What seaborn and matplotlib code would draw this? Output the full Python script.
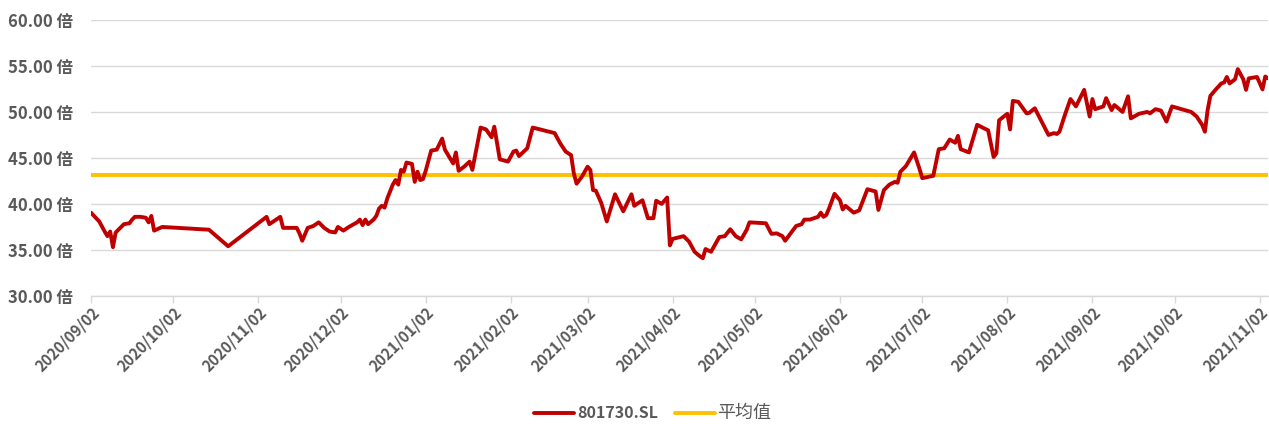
import matplotlib
matplotlib.use("Agg")
import matplotlib.pyplot as plt
import seaborn as sns
import pandas as pd
import numpy as np

# ---------------- data ----------------
dates = [
    "2020-09-02", "2020-09-05", "2020-09-07", "2020-09-08", "2020-09-09", "2020-09-10",
    "2020-09-11", "2020-09-13", "2020-09-14", "2020-09-16", "2020-09-17", "2020-09-18",
    "2020-09-20", "2020-09-22", "2020-09-23", "2020-09-24", "2020-09-25", "2020-09-28",
    "2020-10-15", "2020-10-22", "2020-11-05", "2020-11-06", "2020-11-10", "2020-11-11",
    "2020-11-13", "2020-11-16", "2020-11-17", "2020-11-18", "2020-11-20", "2020-11-22",
    "2020-11-24", "2020-11-26", "2020-11-28", "2020-11-30", "2020-12-01", "2020-12-03",
    "2020-12-05", "2020-12-08", "2020-12-09", "2020-12-10", "2020-12-11", "2020-12-12",
    "2020-12-14", "2020-12-15", "2020-12-16", "2020-12-17", "2020-12-18", "2020-12-19",
    "2020-12-21", "2020-12-22", "2020-12-23", "2020-12-24", "2020-12-25", "2020-12-26",
    "2020-12-28", "2020-12-29", "2020-12-30", "2020-12-31", "2021-01-01", "2021-01-02",
    "2021-01-04", "2021-01-06", "2021-01-08", "2021-01-09", "2021-01-12", "2021-01-13",
    "2021-01-14", "2021-01-16", "2021-01-18", "2021-01-19", "2021-01-22", "2021-01-24",
    "2021-01-26", "2021-01-27", "2021-01-29", "2021-02-01", "2021-02-03", "2021-02-04",
    "2021-02-05", "2021-02-08", "2021-02-10", "2021-02-18", "2021-02-20", "2021-02-22",
    "2021-02-24", "2021-02-25", "2021-02-26", "2021-02-28", "2021-03-02", "2021-03-03",
    "2021-03-04", "2021-03-05", "2021-03-07", "2021-03-09", "2021-03-12", "2021-03-15",
    "2021-03-18", "2021-03-19", "2021-03-22", "2021-03-24", "2021-03-26", "2021-03-27",
    "2021-03-29", "2021-03-31", "2021-04-01", "2021-04-02", "2021-04-06", "2021-04-08",
    "2021-04-10", "2021-04-12", "2021-04-13", "2021-04-14", "2021-04-16", "2021-04-19",
    "2021-04-21", "2021-04-23", "2021-04-25", "2021-04-27", "2021-04-29", "2021-04-30",
    "2021-05-06", "2021-05-08", "2021-05-10", "2021-05-12", "2021-05-13", "2021-05-15",
    "2021-05-17", "2021-05-19", "2021-05-20", "2021-05-22", "2021-05-25", "2021-05-26",
    "2021-05-27", "2021-05-28", "2021-05-29", "2021-05-31", "2021-06-02", "2021-06-03",
    "2021-06-04", "2021-06-07", "2021-06-09", "2021-06-12", "2021-06-15", "2021-06-16",
    "2021-06-18", "2021-06-20", "2021-06-22", "2021-06-23", "2021-06-24", "2021-06-26",
    "2021-06-27", "2021-06-29", "2021-07-01", "2021-07-02", "2021-07-05", "2021-07-06",
    "2021-07-08", "2021-07-10", "2021-07-12", "2021-07-14", "2021-07-15", "2021-07-16",
    "2021-07-19", "2021-07-22", "2021-07-26", "2021-07-28", "2021-07-29", "2021-07-30",
    "2021-08-02", "2021-08-03", "2021-08-04", "2021-08-06", "2021-08-09", "2021-08-10",
    "2021-08-12", "2021-08-17", "2021-08-19", "2021-08-20", "2021-08-21", "2021-08-23",
    "2021-08-25", "2021-08-27", "2021-08-30", "2021-09-01", "2021-09-02", "2021-09-03",
    "2021-09-06", "2021-09-07", "2021-09-09", "2021-09-10", "2021-09-13", "2021-09-15",
    "2021-09-16", "2021-09-19", "2021-09-22", "2021-09-23", "2021-09-25", "2021-09-27",
    "2021-09-29", "2021-10-01", "2021-10-08", "2021-10-10", "2021-10-12", "2021-10-13",
    "2021-10-14", "2021-10-15", "2021-10-17", "2021-10-19", "2021-10-20", "2021-10-21",
    "2021-10-22", "2021-10-24", "2021-10-25", "2021-10-27", "2021-10-28", "2021-10-29",
    "2021-11-01", "2021-11-03", "2021-11-04", "2021-11-05",
]
pe_values = [
    39.05, 38.1, 37.0, 36.5, 37.0, 35.3,
    36.9, 37.5, 37.8, 37.9, 38.3, 38.6,
    38.6, 38.5, 38.0, 38.7, 37.1, 37.5,
    37.2, 35.4, 38.6, 37.8, 38.6, 37.4,
    37.4, 37.4, 36.8, 36.0, 37.4, 37.6,
    38.0, 37.4, 37.0, 36.9, 37.5, 37.1,
    37.5, 38.0, 38.3, 37.7, 38.3, 37.8,
    38.3, 38.7, 39.5, 39.8, 39.6, 40.6,
    42.1, 42.6, 42.1, 43.7, 43.5, 44.5,
    44.35, 42.4, 43.5, 42.6, 42.7, 43.6,
    45.8, 45.9, 47.1, 45.9, 44.4, 45.6,
    43.6, 44.05, 44.6, 43.7, 48.3, 48.1,
    47.25, 48.4, 44.85, 44.6, 45.7, 45.8,
    45.2, 46.05, 48.3, 47.7, 46.6, 45.7,
    45.3, 43.3, 42.2, 43.0, 44.05, 43.7,
    41.5, 41.45, 40.1, 38.1, 41.05, 39.2,
    41.05, 39.8, 40.4, 38.45, 38.45, 40.35,
    40.0, 40.7, 35.5, 36.2, 36.5, 35.9,
    34.8, 34.3, 34.1, 35.1, 34.8, 36.4,
    36.5, 37.25, 36.5, 36.15, 37.2, 38.0,
    37.9, 36.75, 36.8, 36.5, 36.0, 36.8,
    37.6, 37.8, 38.3, 38.3, 38.6, 39.05,
    38.6, 38.8, 39.5, 41.1, 40.4, 39.4,
    39.8, 39.05, 39.3, 41.6, 41.35, 39.35,
    41.5, 42.1, 42.4, 42.3, 43.5, 44.1,
    44.6, 45.6, 43.8, 42.8, 43.0, 43.05,
    45.95, 46.05, 47.0, 46.65, 47.4, 45.95,
    45.6, 48.6, 48.0, 45.1, 45.5, 49.1,
    49.8, 48.1, 51.2, 51.1, 49.85, 49.9,
    50.4, 47.5, 47.7, 47.6, 47.85, 49.7,
    51.4, 50.6, 52.4, 49.5, 51.4, 50.3,
    50.6, 51.5, 50.2, 50.75, 50.0, 51.7,
    49.3, 49.8, 50.0, 49.85, 50.3, 50.15,
    48.95, 50.6, 50.0, 49.5, 48.6, 47.85,
    50.2, 51.75, 52.45, 53.1, 53.2, 53.8,
    53.1, 53.55, 54.65, 53.55, 52.4, 53.65,
    53.8, 52.45, 53.85, 53.65,
]
average_value = 43.2
series_name = "801730.SL"
average_name = "平均值"
x_tick_labels = [
    "2020/09/02", "2020/10/02", "2020/11/02", "2020/12/02", "2021/01/02",
    "2021/02/02", "2021/03/02", "2021/04/02", "2021/05/02", "2021/06/02",
    "2021/07/02", "2021/08/02", "2021/09/02", "2021/10/02", "2021/11/02",
]
y_ticks = [30, 35, 40, 45, 50, 55, 60]

# ---------------- style ----------------
sns.set_theme(style="white")
plt.rcParams["font.family"] = ["Noto Sans CJK SC", "DejaVu Sans"]

RED = "#C00000"
GOLD = "#FFC000"
TXT = "#595959"
GRID = "#D9D9D9"

df = pd.DataFrame({"date": pd.to_datetime(dates), "value": pe_values})

fig = plt.figure(figsize=(12.69, 4.24), dpi=100)
ax = fig.add_axes([0.0717, 0.302, 0.9275, 0.651])

sns.lineplot(data=df, x="date", y="value", ax=ax, color=RED, linewidth=2.8,
             sort=False, estimator=None, label=series_name, zorder=3)
ax.axhline(average_value, color=GOLD, linewidth=2.8, label=average_name, zorder=2)

ax.set_xlim(df["date"].min(), df["date"].max())
ax.set_ylim(30, 60)

ax.set_yticks(y_ticks)
ax.set_yticklabels([f"{v:.2f} 倍" for v in y_ticks], fontsize=12,
                   fontweight="bold", color=TXT)
ax.yaxis.grid(True, color=GRID, linewidth=1.0)
ax.xaxis.grid(False)

xt = pd.to_datetime(x_tick_labels, format="%Y/%m/%d")
ax.set_xticks(xt)
ax.set_xticklabels(x_tick_labels, rotation=45, ha="right", rotation_mode="anchor",
                   fontsize=11, fontweight="bold", color=TXT)

ax.tick_params(axis="x", which="major", length=5, width=1, color=GRID, direction="out",
               pad=1, bottom=True)
ax.tick_params(axis="y", length=0, pad=13)

for s in ["top", "right", "left"]:
    ax.spines[s].set_visible(False)
ax.spines["bottom"].set_color(GRID)
ax.spines["bottom"].set_linewidth(1.0)

ax.set_xlabel("")
ax.set_ylabel("")

leg = ax.legend(loc="center", bbox_to_anchor=(0.4775, -0.425), ncol=2, frameon=False,
                prop={"size": 11.5, "weight": "bold"}, handlelength=2.5,
                handletextpad=0.15, columnspacing=1.1, borderpad=0.2)
for t in leg.get_texts():
    t.set_color(TXT)
leg.get_texts()[1].set_fontsize(13)
leg.get_texts()[1].set_fontweight("medium")

fig.savefig("out.png", dpi=100)
